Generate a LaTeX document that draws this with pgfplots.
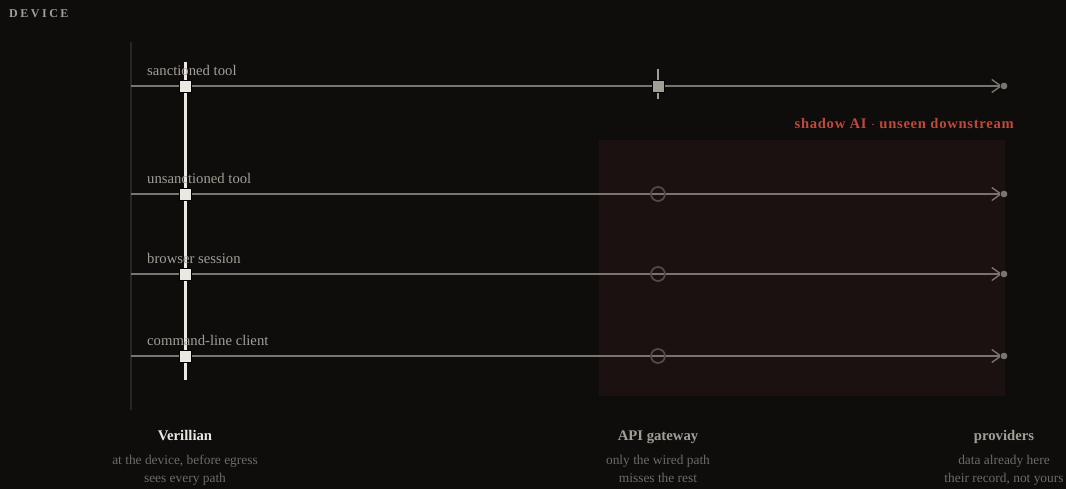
\documentclass[border=0pt]{standalone}
\usepackage{fontspec}
\setmainfont{Liberation Serif}
\usepackage{pgfplots}
\pgfplotsset{compat=1.18}
\usetikzlibrary{arrows.meta}

\definecolor{bg}{HTML}{0E0D0C}
\definecolor{rail}{HTML}{2A2521}
\definecolor{rowline}{HTML}{7A746E}
\definecolor{lbl}{HTML}{A39D96}
\definecolor{veri}{HTML}{EBE7E1}
\definecolor{gate}{HTML}{A39D97}
\definecolor{ring}{HTML}{524C47}
\definecolor{shadowred}{HTML}{C2483A}
\definecolor{shade}{HTML}{1A1110}
\definecolor{sub}{HTML}{6F6A64}

\newcommand\rowfont{\fontsize{14.7}{17}\selectfont}
\newcommand\subfont{\fontsize{13.4}{15}\selectfont}

\begin{document}
\begin{tikzpicture}
\begin{axis}[
  width=1066pt, height=489pt, scale only axis,
  xmin=0, xmax=1066, ymin=0, ymax=489, y dir=reverse,
  hide axis, clip=false,
  rowarrow/.style={rowline, line width=1.6pt,
    -{Straight Barb[length=9pt,width=13pt,line width=1.4pt]}},
]
% background and shaded zone
\addplot[fill=bg, draw=none] coordinates {(0,0) (1066,0) (1066,489) (0,489)} -- cycle;
\addplot[fill=shade, draw=none] coordinates {(599,140) (1005,140) (1005,396) (599,396)} -- cycle;

% left rail
\addplot[rail, line width=1.3pt] coordinates {(131,42) (131,410)};

% rows
\addplot[rowarrow] coordinates {(131,86) (1002,86)};
\addplot[rowarrow] coordinates {(131,194) (1002,194)};
\addplot[rowarrow] coordinates {(131,274) (1002,274)};
\addplot[rowarrow] coordinates {(131,356) (1002,356)};
\addplot[only marks, mark=*, mark size=3.8pt, mark options={fill=rowline, draw=none}]
  coordinates {(1004,86) (1004,194) (1004,274) (1004,356)};

% API gateway
\addplot[gate, line width=2pt] coordinates {(658,69) (658,99)};
\addplot[only marks, mark=square*, mark size=6pt, mark options={fill=gate, draw=none}]
  coordinates {(658,86)};
\addplot[only marks, mark=o, mark size=7pt, mark options={draw=ring, line width=1.7pt}]
  coordinates {(658,194) (658,274) (658,356)};

% Verillian
\addplot[veri, line width=3pt] coordinates {(185,62) (185,380)};
\addplot[only marks, mark=square*, mark size=6pt, mark options={fill=veri, draw=none}]
  coordinates {(185,86) (185,194) (185,274) (185,356)};

% texts
\node[anchor=base west, text=lbl, inner sep=0pt] at (axis cs:9,18)
  {\fontsize{12}{14}\selectfont\addfontfeature{LetterSpace=21}\bfseries DEVICE};
\node[anchor=base west, text=lbl, inner sep=0pt] at (axis cs:147,75.5) {\rowfont sanctioned tool};
\node[anchor=base west, text=lbl, inner sep=0pt] at (axis cs:147,183.5) {\rowfont unsanctioned tool};
\node[anchor=base west, text=lbl, inner sep=0pt] at (axis cs:147,263.5) {\rowfont browser session};
\node[anchor=base west, text=lbl, inner sep=0pt] at (axis cs:147,345.5) {\rowfont command-line client};
\node[anchor=base east, text=shadowred, inner sep=0pt] at (axis cs:1014,129)
  {\fontsize{14.6}{16}\selectfont\addfontfeature{LetterSpace=5}\bfseries shadow AI $\cdot$ unseen downstream};

\node[anchor=base, text=veri, inner sep=0pt] at (axis cs:185,440) {\rowfont\bfseries Verillian};
\node[anchor=base, text=sub, inner sep=0pt] at (axis cs:185,464) {\subfont at the device, before egress};
\node[anchor=base, text=sub, inner sep=0pt] at (axis cs:185,482.5) {\subfont sees every path};

\node[anchor=base, text=lbl, inner sep=0pt] at (axis cs:658,440) {\rowfont\bfseries API gateway};
\node[anchor=base, text=sub, inner sep=0pt] at (axis cs:658,464) {\subfont only the wired path};
\node[anchor=base, text=sub, inner sep=0pt] at (axis cs:658,482.5) {\subfont misses the rest};

\node[anchor=base, text=lbl, inner sep=0pt] at (axis cs:1004,440) {\rowfont\bfseries providers};
\node[anchor=base, text=sub, inner sep=0pt] at (axis cs:1004,464) {\subfont data already here};
\node[anchor=base, text=sub, inner sep=0pt] at (axis cs:1004,482.5) {\subfont their record, not yours};
\end{axis}
\end{tikzpicture}
\end{document}
